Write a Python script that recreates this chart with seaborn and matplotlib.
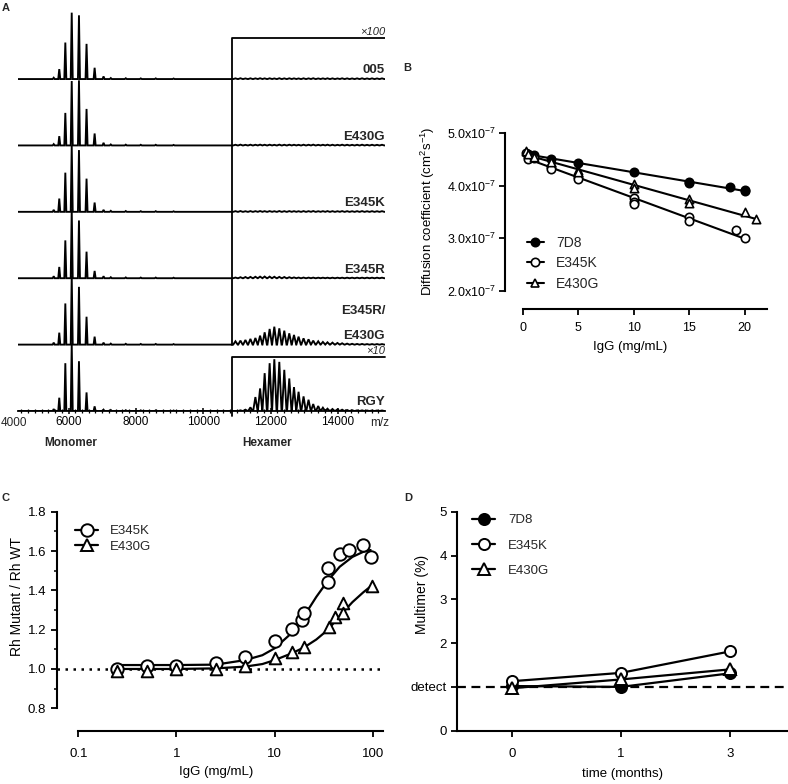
import numpy as np
import seaborn as sns
import matplotlib.pyplot as plt
from matplotlib.lines import Line2D
from matplotlib.ticker import MultipleLocator, NullLocator, FixedLocator

sns.set_theme(style="ticks")
plt.rcParams['font.family'] = ['Liberation Sans', 'DejaVu Sans']
plt.rcParams['mathtext.default'] = 'regular'

# ================= A: native MS spectra =================
spectra = ['005', 'E430G', 'E345K', 'E345R', 'E345R/E430G', 'RGY']
mono_mz = [5560, 5725, 5905, 6095, 6310, 6535, 6775, 7040, 7255, 7700, 8145, 8590, 9120]
mono_005 = [0.02, 0.15, 0.55, 1.00, 0.96, 0.53, 0.17, 0.04, 0.015, 0.012, 0.01, 0.01, 0.008]
mono_e430g = [0.02, 0.14, 0.49, 0.97, 0.98, 0.55, 0.18, 0.04, 0.015, 0.012, 0.01, 0.01, 0.008]
mono_e345k = [0.03, 0.20, 0.59, 1.00, 0.93, 0.50, 0.14, 0.03, 0.015, 0.012, 0.01, 0.01, 0.008]
mono_e345r = [0.03, 0.17, 0.57, 1.04, 0.87, 0.40, 0.11, 0.03, 0.015, 0.012, 0.01, 0.01, 0.008]
mono_rg = [0.03, 0.18, 0.62, 1.04, 0.87, 0.42, 0.12, 0.03, 0.015, 0.012, 0.01, 0.01, 0.008]
mono_rgy = [0.03, 0.20, 0.72, 1.02, 0.75, 0.28, 0.07, 0.02, 0.015, 0.012, 0.01, 0.01, 0.008]

hex_mz = [10956, 11104, 11252, 11400, 11548, 11687, 11823, 11971, 12110, 12258, 12406,
          12554, 12694, 12830, 12978, 13126, 13265, 13413, 13552, 13688, 13836, 13984,
          14123, 14271, 14419, 14567, 14715, 14863, 15011, 15159, 15307]
hex_flat = [0.010, 0.012, 0.009, 0.011, 0.010, 0.012, 0.010, 0.011, 0.009, 0.012, 0.010,
            0.011, 0.010, 0.009, 0.011, 0.010, 0.012, 0.009, 0.010, 0.011, 0.010, 0.009,
            0.011, 0.010, 0.009, 0.010, 0.011, 0.009, 0.010, 0.009, 0.010]
hex_e345r = [0.010, 0.015, 0.018, 0.020, 0.022, 0.024, 0.025, 0.024, 0.022, 0.020, 0.018,
             0.015, 0.012, 0.010, 0.010, 0.009, 0.009, 0.008, 0.008, 0.008, 0.008, 0.008,
             0.008, 0.008, 0.008, 0.008, 0.008, 0.008, 0.008, 0.008, 0.008]
hex_rg = [0.05, 0.06, 0.07, 0.086, 0.10, 0.135, 0.185, 0.236, 0.27, 0.245, 0.21,
          0.17, 0.146, 0.12, 0.095, 0.08, 0.06, 0.05, 0.04, 0.035, 0.03, 0.025,
          0.02, 0.015, 0.012, 0.01, 0.01, 0.008, 0.008, 0.008, 0.008]
hex_rgy = [0.0, 0.01, 0.02, 0.055, 0.21, 0.34, 0.57, 0.72, 0.78, 0.74, 0.62,
           0.49, 0.36, 0.29, 0.22, 0.17, 0.105, 0.075, 0.05, 0.035, 0.03, 0.025,
           0.02, 0.015, 0.012, 0.01, 0.01, 0.008, 0.008, 0.008, 0.008]
mz_ticks = [6000, 8000, 10000, 12000, 14000]

# ================= B: diffusion =================
b_x_7d8 = [0.5, 1, 2.5, 5, 10, 15, 15, 18.7, 20, 20]
b_y_7d8 = [4.61, 4.58, 4.50, 4.43, 4.25, 4.07, 4.04, 3.97, 3.91, 3.89]
b_x_e345k = [0.25, 0.5, 1, 2.5, 2.5, 5, 5, 10, 10, 10, 15, 15, 19.2, 20]
b_y_e345k = [4.62, 4.50, 4.52, 4.35, 4.31, 4.17, 4.12, 3.76, 3.69, 3.64, 3.41, 3.33, 3.15, 3.01]
b_x_e430g = [0.25, 0.5, 1, 2.5, 5, 5, 10, 10, 15, 15, 20, 21]
b_y_e430g = [4.65, 4.60, 4.55, 4.44, 4.30, 4.25, 4.03, 3.95, 3.74, 3.67, 3.49, 3.36]

# ================= C: Rh ratio =================
c_x_e345k = [0.25, 0.5, 1, 2.5, 5, 10, 15, 19, 20, 35, 35, 46, 57, 79, 96]
c_y_e345k = [1.00, 1.017, 1.017, 1.029, 1.059, 1.14, 1.205, 1.249, 1.286, 1.44, 1.515, 1.585, 1.605, 1.629, 1.571]
c_x_e430g = [0.25, 0.5, 1, 2.5, 5, 10, 15, 20, 36, 41, 50, 50, 98]
c_y_e430g = [0.99, 0.99, 1.0, 1.0, 1.015, 1.054, 1.088, 1.113, 1.215, 1.262, 1.337, 1.283, 1.423]
fit_x = [0.25, 1, 2.5, 5, 7.5, 10, 15, 20, 26.6, 35, 46, 62, 80, 95]
fit_e345k = [1.02, 1.02, 1.022, 1.045, 1.07, 1.105, 1.184, 1.27, 1.367, 1.45, 1.52, 1.57, 1.596, 1.605]
fit_e430g = [1.0, 1.0, 1.003, 1.012, 1.025, 1.045, 1.08, 1.11, 1.15, 1.2, 1.27, 1.34, 1.39, 1.42]

# ================= D: multimer over time =================
months = ['0', '1', '3']
d_7d8 = [1.02, 1.0, 1.31]
d_e345k = [1.13, 1.32, 1.81]
d_e430g = [0.97, 1.17, 1.40]

W, H = 788, 784
fig = plt.figure(figsize=(W / 100, H / 100), dpi=100)


def add_ax(l, t, r, b):
    return fig.add_axes([l / W, 1 - b / H, (r - l) / W, (b - t) / H])


def prism(ax, fs):
    for s in ['top', 'right']:
        ax.spines[s].set_visible(False)
    for s in ['left', 'bottom']:
        ax.spines[s].set_linewidth(1.5)
        ax.spines[s].set_color('black')
    ax.tick_params(which='major', length=4.5, width=1.3, color='black', labelcolor='black', labelsize=fs)
    ax.tick_params(which='minor', length=2.5, width=1.1, color='black')
    ax.set_facecolor('none')


def spectrum(mono_h, hex_h, start=4500, box=10860, end=15396):
    xs, ys = [start], [0]
    for p, h in zip(mono_mz, mono_h):
        xs += [p - 30, p, p + 30]
        ys += [0, h, 0]
    xs.append(box)
    ys.append(0)
    for p, h in zip(hex_mz, hex_h):
        xs += [p - 66, p, p + 66]
        ys += [0, h, 0]
    xs.append(end)
    ys.append(0)
    return np.array(xs), np.array(ys)


# ---------- A ----------
axA = add_ax(18, 10, 385, 411)
axA.set_facecolor('none')
mono_all = [mono_005, mono_e430g, mono_e345k, mono_e345r, mono_rg, mono_rgy]
hex_all = [hex_flat, hex_flat, hex_flat, hex_e345r, hex_rg, hex_rgy]
offsets = [5, 4, 3, 2, 1, 0]
for name, mh, hh, off in zip(spectra, mono_all, hex_all, offsets):
    xs, ys = spectrum(mh, hh)
    axA.plot(xs, ys + off, color='black', lw=1.35, solid_joinstyle='miter')
    if name == 'E345R/E430G':
        axA.text(15396, off + 0.5, 'E345R/', ha='right', va='center', fontsize=9.5, fontweight='bold')
        axA.text(15396, off + 0.13, 'E430G', ha='right', va='center', fontsize=9.5, fontweight='bold')
    else:
        axA.text(15396, off + 0.13, name, ha='right', va='center', fontsize=9.5, fontweight='bold')

# hexamer boxes with scale factors
axA.plot([10860, 10860, 15396], [1, 5.62, 5.62], color='black', lw=1.3)
axA.plot([10860, 10860, 15396], [-0.07, 0.82, 0.82], color='black', lw=1.3, clip_on=False)
axA.text(15396, 5.71, '×100', ha='right', va='center', fontsize=8, style='italic')
axA.text(15396, 0.90, '×10', ha='right', va='center', fontsize=8, style='italic')

axA.set_xlim(4500, 15396)
axA.set_ylim(0, 6.04)
for s in ['top', 'right', 'left']:
    axA.spines[s].set_visible(False)
axA.spines['bottom'].set_linewidth(1.3)
axA.spines['bottom'].set_color('black')
axA.set_yticks([])
axA.set_xticks(mz_ticks)
axA.xaxis.set_minor_locator(MultipleLocator(200))
axA.tick_params(axis='x', which='major', direction='inout', length=5, width=1.1, color='black',
                labelsize=8.5, labelcolor='black', pad=1)
axA.tick_params(axis='x', which='minor', direction='inout', length=3, width=0.9, color='black')
axA.annotate('4000', xy=(4000, 0), xycoords=('data', 'axes fraction'), xytext=(0, -4.2),
             textcoords='offset points', ha='left', va='top', fontsize=8.5, annotation_clip=False)
axA.annotate('m/z', xy=(14950, 0), xycoords=('data', 'axes fraction'), xytext=(0, -4.2),
             textcoords='offset points', ha='left', va='top', fontsize=8.5)
axA.annotate('Monomer', xy=(6050, 0), xycoords=('data', 'axes fraction'), xytext=(0, -19),
             textcoords='offset points', ha='center', va='top', fontsize=8.5, fontweight='bold')
axA.annotate('Hexamer', xy=(11900, 0), xycoords=('data', 'axes fraction'), xytext=(0, -19),
             textcoords='offset points', ha='center', va='top', fontsize=8.5, fontweight='bold')

# ---------- B ----------
axB = add_ax(505, 133, 767, 309)
for xv, yv, face, mk in [(b_x_7d8, b_y_7d8, 'black', 'o'),
                         (b_x_e345k, b_y_e345k, 'white', 'o'),
                         (b_x_e430g, b_y_e430g, 'white', '^')]:
    sns.regplot(x=xv, y=yv, scatter=False, ci=None, color='black', line_kws={'lw': 1.5}, ax=axB)
    sns.scatterplot(x=xv, y=yv, marker=mk, s=36, color=face, edgecolor='black', linewidth=1.2,
                    ax=axB, zorder=3)
prism(axB, 9)
axB.set_xlim(-1.6, 22)
axB.set_ylim(1.652, 5.0)
axB.spines['left'].set_bounds(2, 5)
axB.spines['bottom'].set_bounds(0, 22)
axB.set_xticks([0, 5, 10, 15, 20])
axB.set_yticks([2, 3, 4, 5])
axB.set_yticklabels([f'{v:.1f}x10$^{{-7}}$' for v in [2, 3, 4, 5]])
axB.tick_params(axis='x', pad=5)
axB.tick_params(axis='y', pad=2)
axB.set_xlabel('IgG (mg/mL)', fontsize=9.5, color='black')
axB.set_ylabel('Diffusion coefficient (cm$^{2}$s$^{-1}$)', fontsize=9.5, color='black')
axB.xaxis.set_label_coords(0.477, -0.215)
axB.yaxis.set_label_coords(-0.294, 0.555)
axB.xaxis.label.set_va('center')
axB.yaxis.label.set_va('center')

hB = [Line2D([0], [0], color='black', lw=1.5, marker='o', ms=6, mfc='black', mec='black', mew=1.2),
      Line2D([0], [0], color='black', lw=1.5, marker='o', ms=6, mfc='white', mec='black', mew=1.2),
      Line2D([0], [0], color='black', lw=1.5, marker='^', ms=6, mfc='white', mec='black', mew=1.2)]
axB.legend(hB, ['7D8', 'E345K', 'E430G'], loc='upper left', bbox_to_anchor=(527 / W, 1 - 236 / H),
           bbox_transform=fig.transFigure, frameon=False, fontsize=10, handlelength=1.2,
           handletextpad=0.9, labelspacing=0.45, borderpad=0, borderaxespad=0)

# ---------- C ----------
axC = add_ax(56.7, 511.7, 383, 730.7)
axC.set_xscale('log')
axC.axhline(1.0, color='black', ls=(0, (1, 2.2)), lw=1.8, zorder=1)
sns.lineplot(x=fit_x, y=fit_e345k, color='black', lw=1.6, estimator=None, ax=axC)
sns.lineplot(x=fit_x, y=fit_e430g, color='black', lw=1.6, estimator=None, ax=axC)
sns.scatterplot(x=c_x_e345k, y=c_y_e345k, marker='o', s=80, color='white', edgecolor='black',
                linewidth=1.4, ax=axC, zorder=3)
sns.scatterplot(x=c_x_e430g, y=c_y_e430g, marker='^', s=70, color='white', edgecolor='black',
                linewidth=1.4, ax=axC, zorder=3)
prism(axC, 9.5)
axC.set_xlim(0.0603, 127)
axC.set_ylim(0.686, 1.8)
axC.spines['left'].set_bounds(0.8, 1.8)
axC.spines['bottom'].set_bounds(0.1, 127)
axC.set_xticks([0.1, 1, 10, 100])
axC.set_xticklabels(['0.1', '1', '10', '100'])
axC.xaxis.set_minor_locator(NullLocator())
axC.set_yticks([0.8, 1.0, 1.2, 1.4, 1.6, 1.8])
axC.set_yticklabels([f'{v:.1f}' for v in [0.8, 1.0, 1.2, 1.4, 1.6, 1.8]])
axC.yaxis.set_minor_locator(FixedLocator([0.9, 1.1, 1.3, 1.5, 1.7]))
axC.tick_params(axis='x', pad=8)
axC.tick_params(axis='y', pad=3)
axC.set_xlabel('IgG (mg/mL)', fontsize=9.5, color='black')
axC.set_ylabel('Rh Mutant / Rh WT', fontsize=10, color='black')
axC.xaxis.set_label_coords(0.488, -0.19)
axC.yaxis.set_label_coords(-0.1226, 0.615)
axC.xaxis.label.set_va('center')
axC.yaxis.label.set_va('center')
hC = [Line2D([0], [0], color='black', lw=1.6, marker='o', ms=9, mfc='white', mec='black', mew=1.4),
      Line2D([0], [0], color='black', lw=1.6, marker='^', ms=9, mfc='white', mec='black', mew=1.4)]
axC.legend(hC, ['E345K', 'E430G'], loc='upper left', bbox_to_anchor=(75 / W, 1 - 525 / H),
           bbox_transform=fig.transFigure, frameon=False, fontsize=9.5, handlelength=1.75,
           handletextpad=0.9, labelspacing=0.25, borderpad=0, borderaxespad=0)

# ---------- D ----------
axD = add_ax(457.3, 511.7, 786.7, 730.7)
axD.axhline(1.0, color='black', ls=(0, (4, 2.5)), lw=1.6, zorder=1)
for yv, face, mk in [(d_7d8, 'black', 'o'), (d_e345k, 'white', 'o'), (d_e430g, 'white', '^')]:
    sns.lineplot(x=months, y=yv, color='black', lw=1.6, marker=mk, markersize=8,
                 markerfacecolor=face, markeredgecolor='black', markeredgewidth=1.4,
                 estimator=None, ax=axD, zorder=3)
prism(axD, 9.5)
axD.set_xlim(-0.5, 2.52)
axD.set_ylim(0, 5)
axD.set_xticks([0, 1, 2])
axD.set_xticklabels(months)
axD.set_yticks([0, 1, 2, 3, 4, 5])
axD.set_yticklabels(['0', 'detect', '2', '3', '4', '5'])
axD.tick_params(axis='x', pad=8)
axD.tick_params(axis='y', pad=3)
axD.set_xlabel('time (months)', fontsize=9.5, color='black')
axD.set_ylabel('Multimer (%)', fontsize=10, color='black')
axD.xaxis.set_label_coords(0.5015, -0.199)
axD.yaxis.set_label_coords(-0.108, 0.62)
axD.xaxis.label.set_va('center')
axD.yaxis.label.set_va('center')
hD = [Line2D([0], [0], color='black', lw=1.6, marker='o', ms=8, mfc='black', mec='black', mew=1.4),
      Line2D([0], [0], color='black', lw=1.6, marker='o', ms=8, mfc='white', mec='black', mew=1.4),
      Line2D([0], [0], color='black', lw=1.6, marker='^', ms=8, mfc='white', mec='black', mew=1.4)]
axD.legend(hD, ['7D8', 'E345K', 'E430G'], loc='upper left', bbox_to_anchor=(472 / W, 1 - 514 / H),
           bbox_transform=fig.transFigure, frameon=False, fontsize=9.5, handlelength=1.75,
           handletextpad=1.0, labelspacing=1.0, borderpad=0, borderaxespad=0)

# panel letters
for letter, x, y in [('A', 6, 8), ('B', 407, 68), ('C', 6, 498), ('D', 408, 498)]:
    fig.text(x / W, 1 - y / H, letter, ha='center', va='center', fontsize=8, fontweight='bold')

fig.savefig('out.png', dpi=100)
